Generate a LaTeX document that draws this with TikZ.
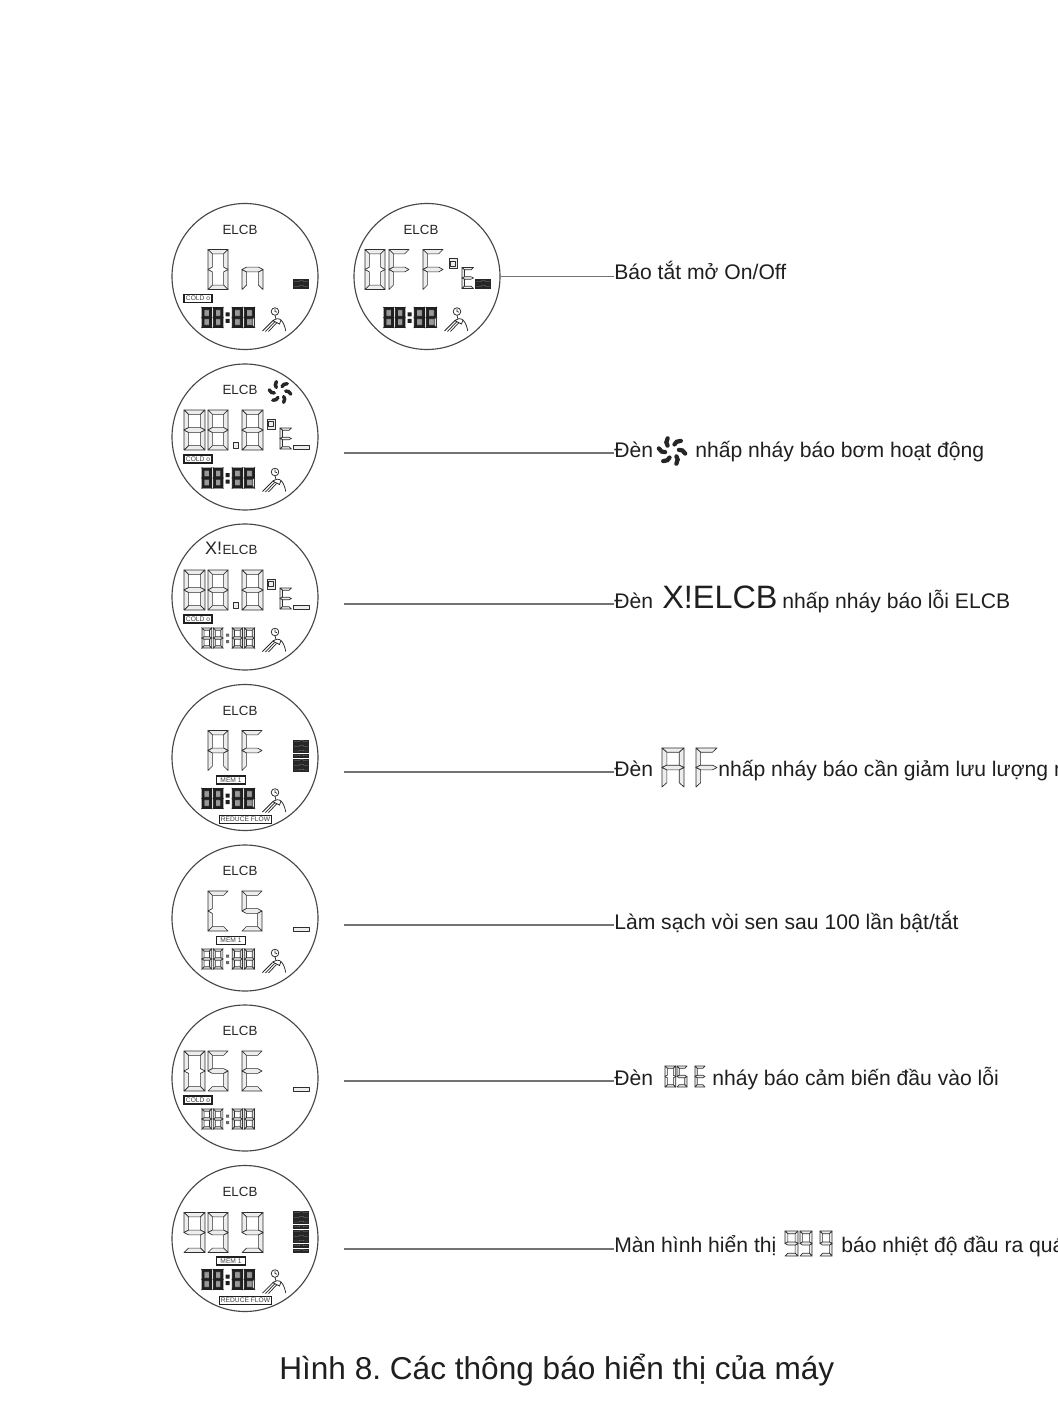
\documentclass[tikz,border=0pt]{standalone}
\usepackage{fontspec}
\setmainfont{Liberation Sans}
\frenchspacing
\newcommand\sga{(0,0)--(1,0)--(.78,.11)--(.22,.11)--cycle}
\newcommand\sgb{(1,0)--(1,.5)--(.78,.44)--(.78,.11)--cycle}
\newcommand\sgc{(1,.5)--(.78,.56)--(.78,.89)--(1,1)--cycle}
\newcommand\sgd{(0,1)--(.22,.89)--(.78,.89)--(1,1)--cycle}
\newcommand\sge{(0,.5)--(.22,.56)--(.22,.89)--(0,1)--cycle}
\newcommand\sgf{(0,0)--(.22,.11)--(.22,.44)--(0,.5)--cycle}
\newcommand\sgg{(0,.5)--(.22,.44)--(.78,.44)--(1,.5)--(.78,.56)--(.22,.56)--cycle}
\newcommand\dig[6][segline]{%
  \begin{scope}[shift={(#2,#3)},xscale=#4,yscale=#5]
    \foreach \s in {#6}{%
      \expandafter\let\expandafter\curseg\csname sg\s\endcsname
      \draw[#1] \curseg;}
  \end{scope}}
\newcommand\timedark{%
  \fill[black!40] (-43,31) rectangle (-33.4,51) (-31.7,31) rectangle (-22.1,51) (-12.7,31) rectangle (-2.5,51) (-0.7,31) rectangle (9.5,51);
  \dig[segdark]{-43}{31}{9.6}{20}{a,b,c,d,e,f,g}
  \dig[segdark]{-31.7}{31}{9.6}{20}{a,b,c,d,e,f,g}
  \dig[segdark]{-12.7}{31}{10.2}{20}{a,b,c,d,e,f,g}
  \dig[segdark]{-0.7}{31}{10.2}{20}{a,b,d,e,f,g}
  \dig[segtime]{-0.7}{31}{10.2}{20}{c}
  \fill[black!88] (-19.5,36) rectangle (-15.5,40) (-19.5,42.5) rectangle (-15.5,46.5);}
\newcommand\timelight{%
  \dig[segtime]{-43}{31}{9.6}{20}{a,b,c,d,e,f,g}
  \dig[segtime]{-31.7}{31}{9.6}{20}{a,b,c,d,e,f,g}
  \dig[segtime]{-12.7}{31}{10.2}{20}{a,b,c,d,e,f,g}
  \dig[segtime]{-0.7}{31}{10.2}{20}{a,b,c,d,e,f,g}
  \fill[black!60] (-19,36.5) rectangle (-16,39.5) (-19,43) rectangle (-16,46);}
\newcommand\tapicon{%
  \draw[iconline] (30,35) circle (3.8);
  \draw[iconline] (30,32.5) -- (30,35) -- (32,35.7);
  \draw[iconline] (30,38.8) -- (31,42.5);
  \draw[iconline,fill=white] (27.5,44) .. controls (30,42) and (34,41.5) .. (36,43.5) .. controls (38.5,46) and (40,50) .. (40.7,54.5) (36,43.5) -- (34.5,47.5) -- (27.5,44);
  \draw[iconline] (27.5,44.5) -- (17.5,54.5) (29.5,45.5) -- (20.5,55) (31.5,46.5) -- (23.5,55);}
\newcommand\barfill[2]{% top y, n
  \foreach \i in {1,...,#2}{%
    \fill[black!85] (48,{#1+(\i-1)*4.75}) rectangle (64,{#1+(\i-1)*4.75+4.4});
    \draw[black!45,line width=.25pt] (49,{#1+(\i-1)*4.75+2}) -- (54,{#1+(\i-1)*4.75+2}) -- (55,{#1+(\i-1)*4.75+1.2}) -- (58,{#1+(\i-1)*4.75+1.2}) -- (59,{#1+(\i-1)*4.75+2}) -- (63,{#1+(\i-1)*4.75+2});}}
\newcommand\barempty{\draw[segline] (48,9) rectangle (64,13);}
\newcommand\unitbox{\draw[segline] (22,-18) rectangle (30,-8);
  \draw[segline] (23.8,-15.5) rectangle (28.2,-10.5);}
\newcommand\smallE{\dig{35}{-9}{11.5}{21}{a,f,g,e,d}}
\newcommand\fan[5]{% x,y,r,width,startangle
  \begin{scope}[shift={(#1,#2)},scale=#3]
    \foreach \a in {0,60,...,300}{%
      \draw[black!85,line width=#4,line cap=round,rotate=\a+#5] (.5,.05) .. controls (.66,.05) and (.82,.2) .. (.86,.42);}
  \end{scope}}
\tikzset{
  x=0.75pt,y=-0.75pt,
  lcd/.style={draw=black!72,line width=.85pt,circle,minimum size=109.5pt,inner sep=0pt},
  segline/.style={draw=black!82,line width=.5pt,fill=black!7,line join=round},
  segdark/.style={draw=black!88,line width=.55pt,fill=black!88},
  segtime/.style={draw=black!80,line width=.5pt,fill=black!14},
  iconline/.style={draw=black!85,line width=.55pt},
  elcb/.style={font=\fontsize{10}{12}\selectfont,inner sep=0pt,text=black!85},
  tagbox/.style={draw=black!88,line width=.85pt,font=\fontsize{5}{6}\selectfont,inner sep=0pt,text=black!75,minimum height=6pt},
  txt/.style={anchor=base west,inner sep=0pt,font=\fontsize{15.85}{19}\selectfont,text=black!88},
  conn/.style={draw=black!55,line width=.85pt},
}
\begin{document}
\begin{tikzpicture}
\useasboundingbox (0,0) rectangle (1057,1408);
\clip (0,0) rectangle (1057,1408);
\fill[white] (0,0) rectangle (1057,1408);

% Row 1a
\node[lcd] (c1) at (245,276.5) {};
\begin{scope}[shift={(c1.center)}]
  \node[elcb] (e1) at (-5,-47) {ELCB};
  \dig{-37}{-27}{20}{40}{a,b,c,d,e,f}
  \dig{-3}{-27}{21}{40}{e,c,g}
  \barfill{3}{2}
  \node[tagbox,minimum width=21pt] (cold1) at (-47,22) {COLD o};
  \timedark \tapicon
\end{scope}
% Row 1b
\node[lcd] (c1b) at (427,276.5) {};
\begin{scope}[shift={(c1b.center)}]
  \node[elcb] (e1b) at (-6,-47) {ELCB};
  \dig{-62}{-27}{20}{40}{a,b,c,d,e,f}
  \dig{-38}{-27}{20}{40}{a,f,g,e}
  \dig{-4}{-27}{20}{40}{a,f,g,e}
  \unitbox \smallE \barfill{3}{2}
  \timedark \tapicon
\end{scope}
% Row 2
\node[lcd] (c2) at (245,437) {};
\begin{scope}[shift={(c2.center)}]
  \node[elcb] (e2) at (-5,-47) {ELCB};
  \fan{35}{-45}{11.5}{2.6pt}{15}
  \dig{-61}{-27}{21}{40}{a,b,c,d,e,f,g}
  \dig{-37}{-27}{20}{40}{a,b,c,d,e,f,g}
  \dig{-3}{-27}{21}{40}{a,b,c,d,e,f,g}
  \draw[segline] (-12,5) rectangle (-7,11);
  \unitbox \smallE
  \draw[segline] (48,8.5) rectangle (64,12.5);
  \node[tagbox,minimum width=21pt] (cold2) at (-47,22) {COLD o};
  \timedark \tapicon
\end{scope}
% Row 3
\node[lcd] (c3) at (245,597) {};
\begin{scope}[shift={(c3.center)}]
  \node[elcb] (e3) at (-5,-47) {ELCB};
  \node[elcb,anchor=base east,font=\fontsize{13.5}{16}\selectfont] (x3) at (e3.base west) {X!};
  \dig{-61}{-27}{21}{40}{a,b,c,d,e,f,g}
  \dig{-37}{-27}{20}{40}{a,b,c,d,e,f,g}
  \dig{-3}{-27}{21}{40}{a,b,c,d,e,f,g}
  \draw[segline] (-12,5) rectangle (-7,11);
  \unitbox \smallE
  \draw[segline] (48,8.5) rectangle (64,12.5);
  \node[tagbox,minimum width=21pt] (cold3) at (-47,22) {COLD o};
  \timelight \tapicon
\end{scope}
% Row 4
\node[lcd] (c4) at (245,757.5) {};
\begin{scope}[shift={(c4.center)}]
  \node[elcb] (e4) at (-5,-47) {ELCB};
  \dig{-37}{-27}{20}{40}{a,b,c,e,f,g}
  \dig{-3}{-27}{20}{40}{a,f,g,e}
  \barfill{-18}{7}
  \node[tagbox,minimum width=22pt] (mem4) at (-14,22.5) {MEM 1};
  \timedark \tapicon
  \node[tagbox,minimum width=39pt] (red4) at (0.5,62) {REDUCE FLOW};
\end{scope}
% Row 5
\node[lcd] (c5) at (245,918) {};
\begin{scope}[shift={(c5.center)}]
  \node[elcb] (e5) at (-5,-47) {ELCB};
  \dig{-37}{-27}{20}{40}{a,f,e,d}
  \dig{-3}{-27}{20}{40}{a,f,g,c,d}
  \barempty
  \node[tagbox,minimum width=22pt] (mem5) at (-14,22.5) {MEM 1};
  \timelight \tapicon
\end{scope}
% Row 6
\node[lcd] (c6) at (245,1078) {};
\begin{scope}[shift={(c6.center)}]
  \node[elcb] (e6) at (-5,-47) {ELCB};
  \dig{-61}{-27}{21}{40}{a,b,c,d,e,f}
  \dig{-37}{-27}{20}{40}{a,f,g,c,d}
  \dig{-3}{-27}{20}{40}{a,f,g,e,d}
  \barempty
  \node[tagbox,minimum width=21pt] (cold6) at (-47,22) {COLD o};
  \timelight
\end{scope}
% Row 7
\node[lcd] (c7) at (245,1238.5) {};
\begin{scope}[shift={(c7.center)}]
  \node[elcb] (e7) at (-5,-47) {ELCB};
  \dig{-61}{-26}{21}{40}{a,b,c,d,f,g}
  \dig{-37}{-26}{20}{40}{a,b,c,d,f,g}
  \dig{-3}{-26}{21}{40}{a,b,c,d,f,g}
  \barfill{-28}{9}
  \node[tagbox,minimum width=22pt] (mem7) at (-14,22.5) {MEM 1};
  \timedark \tapicon
  \node[tagbox,minimum width=39pt] (red7) at (0.5,62) {REDUCE FLOW};
\end{scope}

% Labels
\node[txt] (l1) at (614,280) {Báo tắt mở On/Off};
\node[txt] (l2) at (614,457) {Đèn};
\fan{672}{451}{14}{3.2pt}{15}
\node[txt] (l2b) at (695,457) {nhấp nháy báo bơm hoạt động};
\node[txt] (l3) at (614,608) {Đèn};
\node[txt,font=\fontsize{24.3}{28}\selectfont] (l3x) at (662,608) {X!ELCB};
\node[txt] (l3b) at (782,608) {nhấp nháy báo lỗi ELCB};
\node[txt] (l4) at (614,776) {Đèn};
\dig{662}{748}{22}{39}{a,b,c,e,f,g}
\dig{696}{748}{21}{39}{a,f,g,e}
\node[txt] (l4b) at (718,776) {nhấp nháy báo cần giảm lưu lượng n};
\node[txt] (l5) at (614,929) {Làm sạch vòi sen sau 100 lần bật/tắt};
\node[txt] (l6) at (614,1085) {Đèn};
\dig{665}{1066}{10.7}{21}{a,b,c,d,e,f}
\dig{677}{1066}{10}{21}{a,f,g,c,d}
\dig{695}{1066}{10}{21}{a,f,g,e,d}
\node[txt] (l6b) at (712,1085) {nháy báo cảm biến đầu vào lỗi};
\node[txt] (l7) at (614,1252) {Màn hình hiển thị};
\dig{785}{1231}{13}{25}{a,b,c,d,f,g}
\dig{800}{1231}{12}{25}{a,b,c,d,f,g}
\dig{820}{1231}{12}{25}{a,b,c,d,f,g}
\node[txt] (l7b) at (841,1252) {báo nhiệt độ đầu ra quá};

\node[txt,font=\fontsize{23.7}{28}\selectfont] (title) at (279,1379) {Hình 8. Các thông báo hiển thị của máy};

% Connectors
\coordinate (s2) at (344,453);
\coordinate (s3) at (344,604);
\coordinate (s4) at (344,772);
\coordinate (s5) at (344,925);
\coordinate (s6) at (344,1081);
\coordinate (s7) at (344,1249);
\draw[conn] (c1b.east) -- (c1b.east -| l1.west);
\draw[conn] (s2) -- (s2 -| l2.west);
\draw[conn] (s3) -- (s3 -| l3.west);
\draw[conn] (s4) -- (s4 -| l4.west);
\draw[conn] (s5) -- (s5 -| l5.west);
\draw[conn] (s6) -- (s6 -| l6.west);
\draw[conn] (s7) -- (s7 -| l7.west);
\end{tikzpicture}
\end{document}
